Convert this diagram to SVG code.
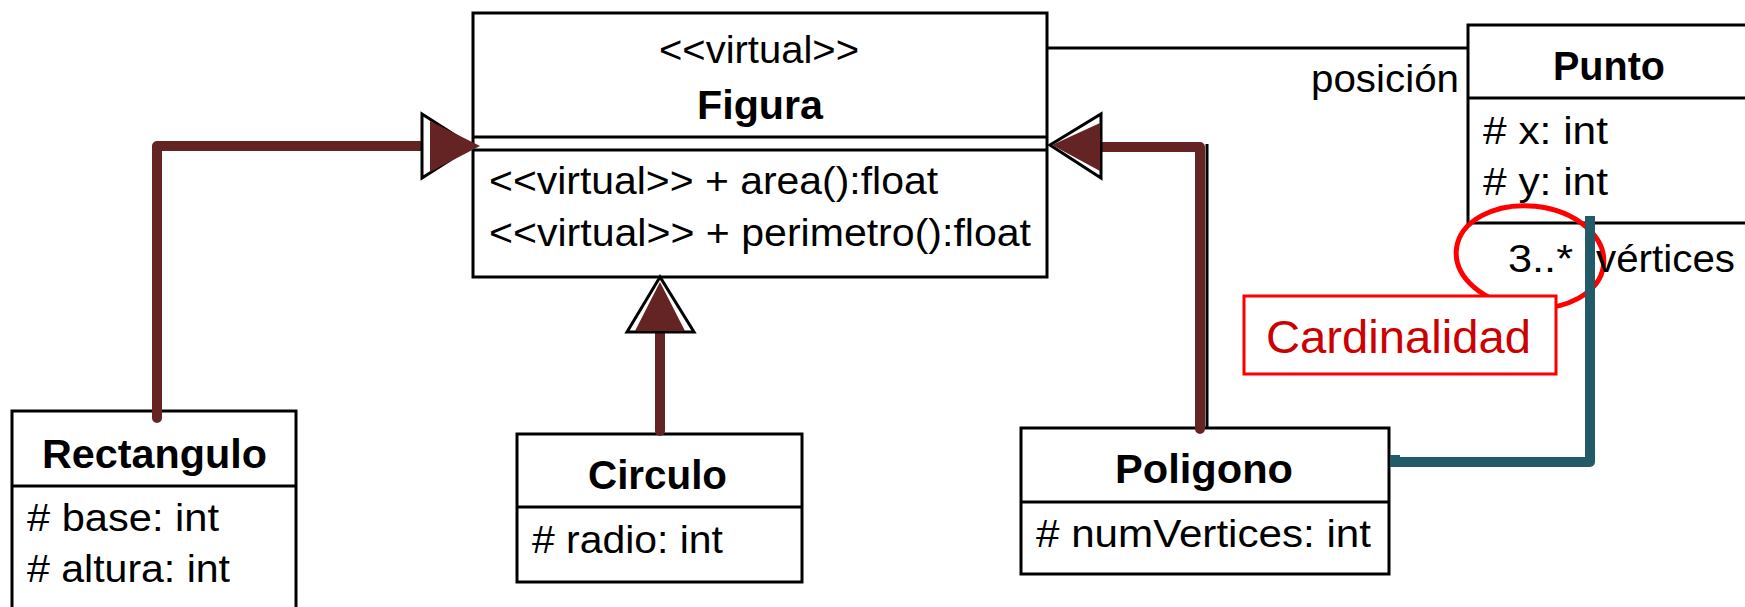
<svg xmlns="http://www.w3.org/2000/svg" width="1745" height="607" viewBox="0 0 1745 607">
<style>
.box{fill:#fff;stroke:#000;stroke-width:3}
.div{stroke:#000;stroke-width:3}
.t{font-family:"Liberation Sans",Arial,sans-serif;font-size:38px;fill:#000}
.b{font-family:"Liberation Sans",Arial,sans-serif;font-size:41px;font-weight:bold;fill:#000}
.gen{fill:none;stroke:#652424;stroke-width:10;stroke-linejoin:round;stroke-linecap:round}
.head{fill:#652424}
.hollow{fill:#fff;stroke:#000;stroke-width:3}
.assoc{fill:none;stroke:#000;stroke-width:3}
.comp{fill:none;stroke:#235a67;stroke-width:10;stroke-linejoin:round}
</style>
<rect width="1745" height="607" fill="#fff"/>
<g id="nodes">
<g id="figura">
<rect class="box" x="473" y="13" width="574" height="264"/>
<line class="div" x1="473" y1="137" x2="1047" y2="137"/>
<line class="div" x1="473" y1="150" x2="1047" y2="150"/>
<text class="t" x="659" y="63" textLength="200" lengthAdjust="spacingAndGlyphs">&lt;&lt;virtual&gt;&gt;</text>
<text class="b" x="697" y="119" textLength="126" lengthAdjust="spacingAndGlyphs">Figura</text>
<text class="t" x="489" y="194" textLength="449" lengthAdjust="spacingAndGlyphs">&lt;&lt;virtual&gt;&gt; + area():float</text>
<text class="t" x="489" y="246" textLength="542" lengthAdjust="spacingAndGlyphs">&lt;&lt;virtual&gt;&gt; + perimetro():float</text>
</g>
<g id="punto">
<rect class="box" x="1468" y="25" width="300" height="198"/>
<line class="div" x1="1468" y1="98" x2="1768" y2="98"/>
<text class="b" x="1553" y="80" textLength="112" lengthAdjust="spacingAndGlyphs">Punto</text>
<text class="t" x="1483" y="144" textLength="125" lengthAdjust="spacingAndGlyphs"># x: int</text>
<text class="t" x="1483" y="195" textLength="125" lengthAdjust="spacingAndGlyphs"># y: int</text>
</g>
<g id="rectangulo">
<rect class="box" x="12" y="411" width="284" height="220"/>
<line class="div" x1="12" y1="486" x2="296" y2="486"/>
<text class="b" x="42" y="468" textLength="225" lengthAdjust="spacingAndGlyphs">Rectangulo</text>
<text class="t" x="27" y="531" textLength="192" lengthAdjust="spacingAndGlyphs"># base: int</text>
<text class="t" x="27" y="582" textLength="203" lengthAdjust="spacingAndGlyphs"># altura: int</text>
</g>
<g id="circulo">
<rect class="box" x="517" y="434" width="285" height="148"/>
<line class="div" x1="517" y1="507" x2="802" y2="507"/>
<text class="b" x="588" y="489" textLength="139" lengthAdjust="spacingAndGlyphs">Circulo</text>
<text class="t" x="532" y="553" textLength="191" lengthAdjust="spacingAndGlyphs"># radio: int</text>
</g>
<g id="poligono">
<rect class="box" x="1021" y="428" width="368" height="146"/>
<line class="div" x1="1021" y1="502" x2="1389" y2="502"/>
<text class="b" x="1115" y="483" textLength="178" lengthAdjust="spacingAndGlyphs">Poligono</text>
<text class="t" x="1036" y="547" textLength="335" lengthAdjust="spacingAndGlyphs"># numVertices: int</text>
</g>
</g>
<g id="annotation-ellipse">
<ellipse cx="1530" cy="257" rx="74" ry="51" fill="none" stroke="#ff0000" stroke-width="5" transform="rotate(6 1530 257)"/>
</g>
<g id="connectors">
<line class="assoc" x1="1047" y1="48" x2="1468" y2="48"/>
<path class="gen" d="M157,418 V146 H432"/>
<polygon class="hollow" points="422,114 472,146 422,178"/>
<polygon class="head" points="430,121 480,146 430,172"/>
<path class="gen" d="M660,431 V330"/>
<polygon class="hollow" points="660,277 627,332 694,332"/>
<polygon class="head" points="660,282 635,331 685,331"/>
<line x1="1207" y1="144" x2="1207" y2="428" stroke="#000" stroke-width="3"/>
<path class="gen" d="M1200,429 V147 H1098"/>
<polygon class="hollow" points="1050,145 1101,114 1101,178"/>
<polygon class="head" points="1052,145 1100,123 1100,171"/>
<path class="comp" d="M1390,462 H1590 V216"/>
<rect x="1390" y="455" width="10" height="4" fill="#235a67"/>
<text class="t" x="1311" y="92" textLength="148" lengthAdjust="spacingAndGlyphs">posición</text>
<text class="t" x="1508" y="272" textLength="65" lengthAdjust="spacingAndGlyphs">3..*</text>
<text class="t" x="1596" y="272" textLength="139" lengthAdjust="spacingAndGlyphs">vértices</text>
</g>
<g id="cardinalidad">
<rect x="1244" y="296" width="312" height="78" fill="#fff" stroke="#ff0000" stroke-width="3"/>
<text x="1266" y="353" font-family="Liberation Sans, Arial, sans-serif" font-size="47" fill="#cc0000" textLength="265" lengthAdjust="spacingAndGlyphs">Cardinalidad</text>
</g>
</svg>
